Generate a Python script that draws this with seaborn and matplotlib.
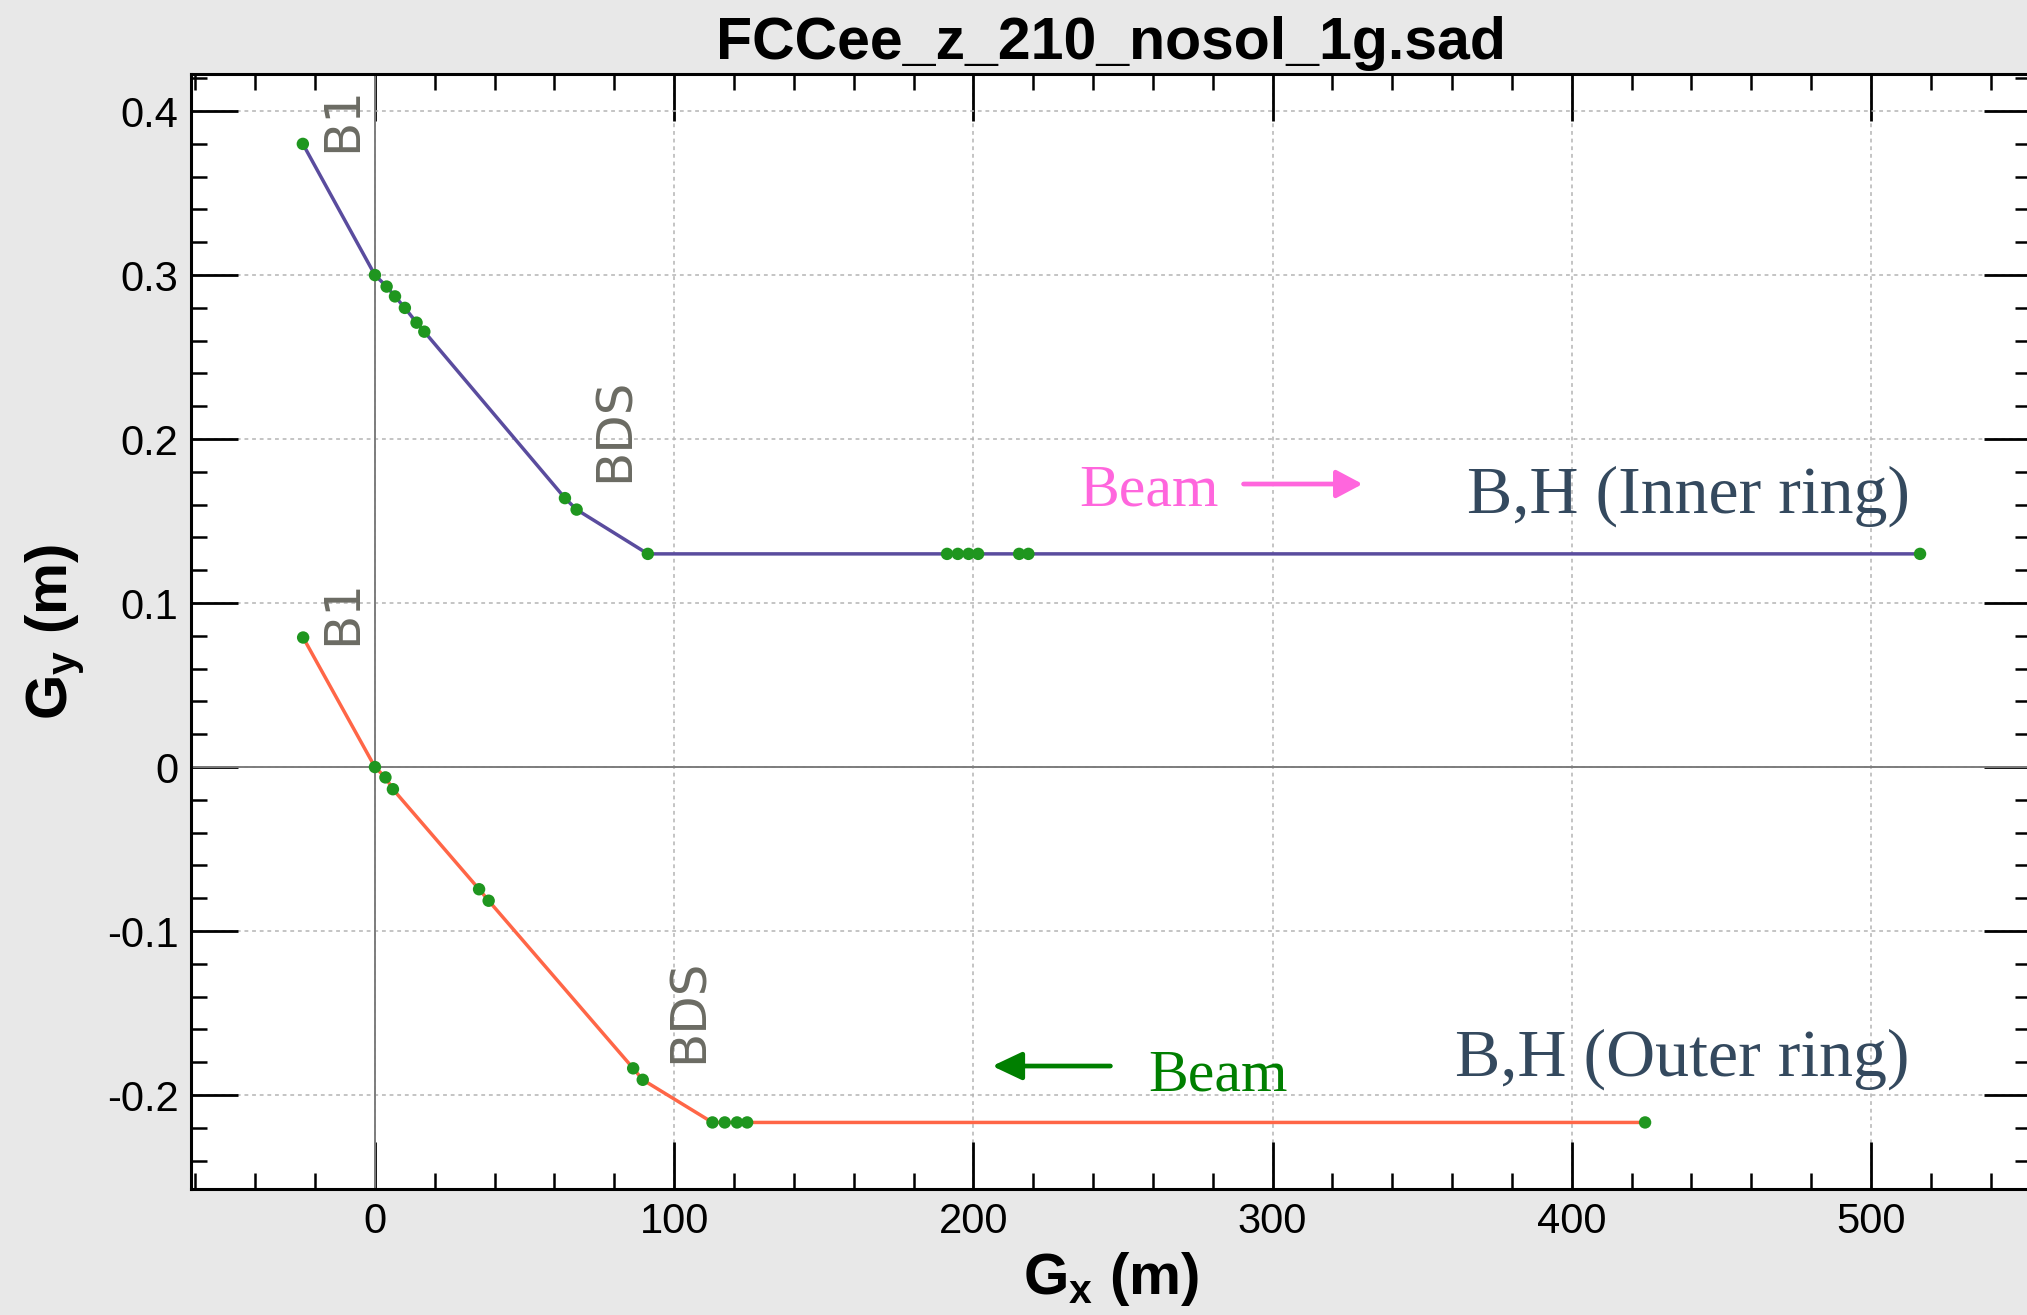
import matplotlib
matplotlib.use("Agg")
import matplotlib.pyplot as plt
import seaborn as sns
import pandas as pd
from matplotlib.ticker import MultipleLocator, FuncFormatter

# ---------------- data ----------------
gx_inner = [-24.1, 0.0, 3.9, 6.7, 10.0, 13.9, 16.5, 63.5, 67.4, 91.2,
            191.2, 194.8, 198.4, 201.6, 215.3, 218.4, 516.4]
gy_inner = [0.380, 0.300, 0.293, 0.287, 0.280, 0.271, 0.2655, 0.164, 0.157, 0.130,
            0.130, 0.130, 0.130, 0.130, 0.130, 0.130, 0.130]

gx_outer = [-24.0, 0.0, 3.5, 6.0, 34.8, 38.0, 86.3, 89.5, 112.8, 116.9, 121.0, 124.4, 424.5]
gy_outer = [0.079, 0.0, -0.0063, -0.0135, -0.0745, -0.0815, -0.1837, -0.1907,
            -0.2167, -0.2167, -0.2167, -0.2167, -0.2167]

title_text = "FCCee_z_210_nosol_1g.sad"
xlabel_text = r"$\mathbf{G}_{\mathbf{x}}$ (m)"
ylabel_text = r"$\mathbf{G}_{\mathbf{y}}$ (m)"

# ---------------- style ----------------
sns.set_style("white")
plt.rcParams["font.family"] = ["Liberation Sans", "DejaVu Sans"]
plt.rcParams["mathtext.fontset"] = "custom"
plt.rcParams["mathtext.bf"] = "Liberation Sans:bold"
plt.rcParams["mathtext.rm"] = "Liberation Sans"
plt.rcParams["axes.unicode_minus"] = False
plt.rcParams["text.color"] = "black"
plt.rcParams["axes.labelcolor"] = "black"
plt.rcParams["xtick.color"] = "black"
plt.rcParams["ytick.color"] = "black"
plt.rcParams["xtick.labelcolor"] = "black"
plt.rcParams["ytick.labelcolor"] = "black"

fig = plt.figure(figsize=(20.27, 13.15), dpi=100, facecolor="#e8e8e8")
ax = fig.add_axes([0.0942, 0.0958, 0.9078, 0.8479])
ax.set_facecolor("white")

df_in = pd.DataFrame({"gx": gx_inner, "gy": gy_inner})
df_out = pd.DataFrame({"gx": gx_outer, "gy": gy_outer})

# zero lines
ax.axvline(0, color="#7d7d7d", lw=1.4, zorder=1)
ax.axhline(0, color="#7d7d7d", lw=1.4, zorder=1)

sns.lineplot(data=df_in, x="gx", y="gy", sort=False, estimator=None,
             color="#5a4c9e", linewidth=2.5, ax=ax, zorder=3)
sns.lineplot(data=df_out, x="gx", y="gy", sort=False, estimator=None,
             color="#ff6647", linewidth=2.5, ax=ax, zorder=3)
sns.scatterplot(data=df_in, x="gx", y="gy", color="#1f961f", s=80,
                edgecolor="none", ax=ax, zorder=4)
sns.scatterplot(data=df_out, x="gx", y="gy", color="#1f961f", s=80,
                edgecolor="none", ax=ax, zorder=4)

ax.set_xlim(-61.5, 553.5)
ax.set_ylim(-0.2573, 0.4226)

# ticks & grid
ax.xaxis.set_major_locator(MultipleLocator(100))
ax.xaxis.set_minor_locator(MultipleLocator(20))
ax.yaxis.set_major_locator(MultipleLocator(0.1))
ax.yaxis.set_minor_locator(MultipleLocator(0.02))
ax.xaxis.set_major_formatter(FuncFormatter(lambda v, p: "%g" % round(v, 6)))
ax.yaxis.set_major_formatter(FuncFormatter(lambda v, p: "%g" % round(v, 6)))
ax.grid(True, which="major", color="#b4b4b4", lw=1.1, ls=(0, (2.5, 2.5)), zorder=0)
ax.set_axisbelow(True)

ax.tick_params(which="both", direction="in", top=True, right=True,
               bottom=True, left=True, labeltop=False, labelright=False)
ax.tick_params(which="major", length=34, width=2.0, labelsize=30, pad=9,
               color="black", labelcolor="black")
ax.tick_params(which="minor", length=11.5, width=1.8, color="black")
for s in ax.spines.values():
    s.set_linewidth(2.2)
    s.set_color("black")

ax.set_title(title_text, fontsize=42.5, fontweight="bold", pad=11, color="black")
ax.set_xlabel(xlabel_text, fontsize=42, fontweight="bold", labelpad=6, color="black")
ax.set_ylabel(ylabel_text, fontsize=42, fontweight="bold", labelpad=14, color="black")

# annotations
gray = "#6b6b63"
ax.text(-11, 0.395, "B1", rotation=90, ha="center", va="center", color=gray,
        fontsize=36, family="DejaVu Sans")
ax.text(-11, 0.0945, "B1", rotation=90, ha="center", va="center", color=gray,
        fontsize=36, family="DejaVu Sans")
ax.text(80.1, 0.2055, "BDS", rotation=90, ha="center", va="center", color=gray,
        fontsize=36, family="DejaVu Sans")
ax.text(105, -0.1488, "BDS", rotation=90, ha="center", va="center", color=gray,
        fontsize=36, family="DejaVu Sans")

navy = "#34495e"
ax.text(513, 0.155, "B,H (Inner ring)", ha="right", va="baseline", color=navy,
        fontsize=49, family="Liberation Serif")
ax.text(513, -0.188, "B,H (Outer ring)", ha="right", va="baseline", color=navy,
        fontsize=49, family="Liberation Serif")

pink = "#ff66dd"
green = "#007f00"
ax.text(235.5, 0.1598, "Beam", ha="left", va="baseline", color=pink,
        fontsize=43, family="Liberation Serif")
ax.text(258.5, -0.197, "Beam", ha="left", va="baseline", color=green,
        fontsize=43, family="Liberation Serif")

ax.annotate("", xy=(330.1, 0.1726), xytext=(290.3, 0.1726),
            arrowprops=dict(arrowstyle="-|>,head_length=16,head_width=8.5",
                            mutation_scale=1, lw=3.4, color=pink,
                            shrinkA=0, shrinkB=0))
ax.annotate("", xy=(206.3, -0.1823), xytext=(245.8, -0.1823),
            arrowprops=dict(arrowstyle="-|>,head_length=18,head_width=8.5",
                            mutation_scale=1, lw=3.4, color=green,
                            shrinkA=0, shrinkB=0))

fig.savefig("out.png", dpi=100, facecolor=fig.get_facecolor())
